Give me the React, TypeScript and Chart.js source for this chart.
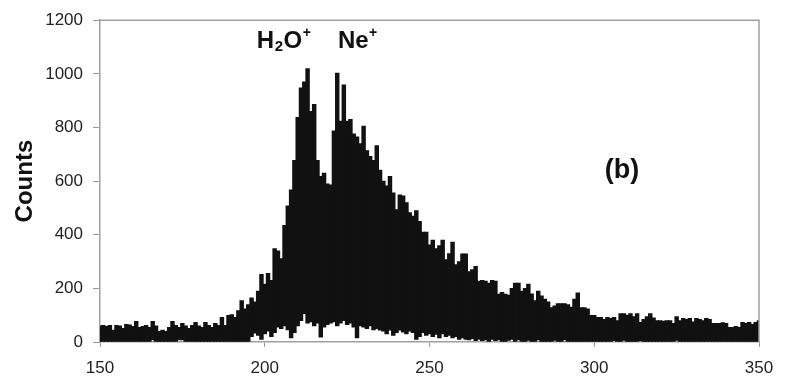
import React, { useEffect, useRef } from 'react';
import { Chart, registerables } from 'chart.js';

Chart.register(...registerables);

// Time-of-flight channel (x) from 150 to 350, one bin per unit
const channelStart = 150;

// Upper envelope of counts per channel (150..350)
const upperCounts = [
  60, 62, 58, 62, 44, 62, 60, 51, 66, 64,
  58, 77, 55, 58, 62, 55, 77, 60, 40, 44,
  40, 55, 77, 62, 55, 70, 60, 51, 62, 73,
  60, 55, 73, 62, 55, 70, 62, 92, 62, 99,
  102, 92, 117, 154, 124, 140, 165, 150, 190, 252,
  216, 256, 230, 348, 340, 311, 435, 508, 567, 677,
  838, 948, 970, 1020, 860, 886, 677, 618, 630, 590,
  586, 787, 1003, 824, 959, 824, 830, 776, 765, 740,
  805, 714, 692, 677, 732, 641, 600, 582, 618, 556,
  494, 549, 545, 520, 483, 470, 490, 450, 410, 410,
  362, 380, 348, 360, 380, 307, 330, 373, 289, 300,
  329, 329, 263, 270, 282, 227, 230, 227, 220, 230,
  227, 179, 185, 179, 175, 200, 220, 220, 190, 200,
  216, 180, 154, 190, 172, 160, 150, 128, 135, 143,
  143, 143, 140, 130, 160, 183, 128, 128, 124, 99,
  99, 92, 92, 85, 92, 88, 92, 80, 106, 106,
  100, 106, 95, 106, 73, 85, 95, 106, 90, 80,
  80, 78, 80, 80, 70, 95, 80, 88, 85, 88,
  75, 88, 85, 80, 88, 85, 70, 70, 70, 72,
  70, 55, 55, 58, 55, 73, 70, 73, 66, 73, 80,
];

// Lower envelope of counts per channel (150..350)
const lowerCounts = [
  0, 0, 0, 0, 0, 0, 0, 0, 0, 0,
  0, 0, 0, 0, 0, 0, 8, 0, 0, 0,
  0, 0, 0, 0, 8, 8, 0, 0, 0, 0,
  0, 0, 0, 0, 0, 0, 0, 0, 0, 0,
  0, 0, 0, 0, 0, 0, 20, 33, 25, 10,
  30, 40, 20, 35, 55, 50, 60, 45, 15, 35,
  60, 80, 106, 70, 75, 60, 70, 18, 55, 65,
  70, 75, 60, 70, 80, 65, 70, 55, 15, 60,
  55, 50, 60, 45, 50, 44, 40, 30, 44, 25,
  35, 44, 37, 30, 40, 35, 10, 20, 35, 25,
  30, 20, 28, 15, 30, 20, 25, 15, 20, 10,
  15, 10, 8, 12, 5, 10, 5, 8, 0, 10,
  5, 8, 0, 0, 6, 10, 0, 8, 0, 0,
  6, 0, 0, 8, 0, 0, 0, 0, 6, 0,
  0, 8, 0, 0, 0, 0, 0, 0, 0, 0,
  0, 0, 0, 0, 0, 0, 5, 0, 0, 6,
  0, 0, 0, 0, 5, 0, 0, 0, 0, 0,
  0, 0, 0, 0, 0, 6, 0, 0, 0, 0,
  0, 0, 0, 0, 0, 0, 0, 0, 0, 0,
  0, 0, 0, 0, 0, 0, 0, 0, 0, 0, 0,
];

const xMin = 150;
const xMax = 350;
const xStep = 50;
const yMin = 0;
const yMax = 1200;
const yStep = 200;
const yTitle = 'Counts';

// Peak labels in data units (text pieces with sub/superscripts)
const peakLabels = [
  { parts: [{ t: 'H', kind: 'main' }, { t: '2', kind: 'sub' }, { t: 'O', kind: 'main' }, { t: '+', kind: 'sup' }], x: 197.6, y: 1098 },
  { parts: [{ t: 'Ne', kind: 'main' }, { t: '+', kind: 'sup' }], x: 222.2, y: 1098 },
];
const panelLabel = { text: '(b)', x: 308.4, y: 610 };

const FONT = '"Liberation Sans", Arial, Helvetica, sans-serif';

const overlayPlugin = {
  id: 'overlay',
  afterDraw(chart: any) {
    const { ctx, chartArea, scales } = chart;
    ctx.save();
    // top and right frame lines
    ctx.strokeStyle = '#a0a0a0';
    ctx.lineWidth = 1.5;
    ctx.beginPath();
    ctx.moveTo(chartArea.left, chartArea.top);
    ctx.lineTo(chartArea.right, chartArea.top);
    ctx.lineTo(chartArea.right, chartArea.bottom);
    ctx.stroke();

    ctx.fillStyle = '#111';
    ctx.textBaseline = 'alphabetic';
    ctx.textAlign = 'left';
    const styles: any = {
      main: { size: 24, dy: 0 },
      sub: { size: 15, dy: 3 },
      sup: { size: 14, dy: -11 },
    };
    for (const lab of peakLabels) {
      let px = scales.x.getPixelForValue(lab.x);
      const py = scales.y.getPixelForValue(lab.y);
      for (const p of lab.parts) {
        const st = styles[p.kind];
        ctx.font = `bold ${st.size}px ${FONT}`;
        ctx.fillText(p.t, px, py + st.dy);
        px += ctx.measureText(p.t).width + 0.5;
      }
    }
    ctx.font = `bold 27px ${FONT}`;
    ctx.textAlign = 'center';
    ctx.fillText(
      panelLabel.text,
      scales.x.getPixelForValue(panelLabel.x),
      scales.y.getPixelForValue(panelLabel.y)
    );
    ctx.restore();
  },
};

export default function App() {
  const canvasRef = useRef<HTMLCanvasElement | null>(null);

  useEffect(() => {
    if (!canvasRef.current) return;
    const data = upperCounts.map((hi, i) => ({
      x: channelStart + i,
      y: [lowerCounts[i], hi],
    }));
    const chart = new Chart(canvasRef.current, {
      type: 'bar',
      data: {
        datasets: [
          {
            data: data as any,
            backgroundColor: '#111111',
            borderWidth: 0,
            barThickness: 3.8,
            grouped: false,
          } as any,
        ],
      },
      options: {
        responsive: true,
        maintainAspectRatio: false,
        animation: false,
        devicePixelRatio: 1,
        layout: { padding: { left: 0, right: 28, top: 14, bottom: 0 } },
        plugins: {
          legend: { display: false },
          tooltip: { enabled: false },
        },
        scales: {
          x: {
            type: 'linear',
            min: xMin,
            max: xMax,
            offset: false,
            ticks: {
              stepSize: xStep,
              color: '#222',
              font: { family: FONT, size: 17 },
              padding: 11,
              maxRotation: 0,
              callback: (v: any) => String(v),
            },
            grid: {
              display: true,
              offset: false,
              drawOnChartArea: false,
              drawTicks: true,
              tickLength: 5,
              color: '#999',
            },
            border: { display: true, color: '#a0a0a0', width: 1.5 },
            afterFit: (s: any) => {
              s.height = 38;
            },
          },
          y: {
            type: 'linear',
            min: yMin,
            max: yMax,
            ticks: {
              stepSize: yStep,
              color: '#222',
              font: { family: FONT, size: 17 },
              padding: 10,
              callback: (v: any) => String(v),
            },
            grid: {
              display: true,
              drawOnChartArea: false,
              drawTicks: true,
              tickLength: 7,
              color: '#999',
            },
            border: { display: true, color: '#a0a0a0', width: 1.5 },
            title: {
              display: true,
              text: yTitle,
              color: '#111',
              font: { family: FONT, size: 24, weight: 'bold' },
              padding: { top: 11, bottom: 0 },
            },
            afterFit: (s: any) => {
              s.width = 100;
            },
          },
        },
      } as any,
      plugins: [overlayPlugin],
    });
    return () => chart.destroy();
  }, []);

  return (
    <div style={{ position: 'fixed', left: 0, top: 0, width: 787, height: 380, background: '#fff' }}>
      <canvas ref={canvasRef} />
    </div>
  );
}
